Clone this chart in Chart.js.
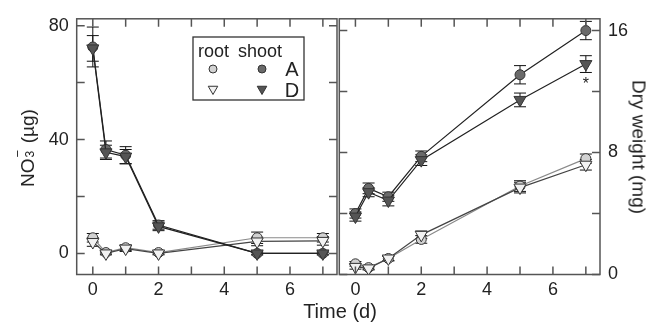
<!DOCTYPE html>
<html><head><meta charset="utf-8">
<script src="https://cdn.jsdelivr.net/npm/chart.js@4"></script>
<style>
html,body{margin:0;padding:0;background:#fff;}
#wrap{position:relative;width:658px;height:324px;overflow:hidden;font-family:"Liberation Sans",Arial,sans-serif;color:#222;}
canvas{position:absolute;top:0;}
.t{position:absolute;white-space:nowrap;font-size:19px;line-height:1;}
.ss{display:inline-block;position:relative;width:10px;height:1em;}
.ss .up{position:absolute;left:1px;top:-4px;font-size:13px;}
.ss .dn{position:absolute;left:1px;top:9px;font-size:12px;}
</style></head>
<body><div id="wrap">
<canvas id="c1" width="345" height="324" style="left:0"></canvas>
<canvas id="c2" width="328" height="324" style="left:330px"></canvas>
<div class="t" id="ylab" style="left:26px;top:148px;transform:translate(-50%,-50%) rotate(-90deg);">NO<span class="ss"><span class="up">−</span><span class="dn">3</span></span> (µg)</div>
<div class="t" style="left:639px;top:147px;transform:translate(-50%,-50%) rotate(90deg);">Dry weight (mg)</div>
<div class="t" style="left:340px;top:311px;transform:translate(-50%,-50%);font-size:20px;">Time (d)</div>
</div>
<script>
// ---- data ----
const days = [0, 0.4, 1, 2, 5, 7];
// nitrate (µg)
const no3ShootA = [72.5, 36.5, 34.5, 10, 0, 0];
const no3ShootD = [72, 35.5, 34, 9.5, 0, 0];
const no3RootA  = [5.5, 0.3, 2, 0.3, 5.5, 5.5];
const no3RootD  = [4, 0, 1.7, 0, 4.2, 4.4];
const no3ShootAErr = [7, 3, 3, 1.5, 0.5, 0.5];
const no3ShootDErr = [4.5, 2.5, 2.5, 1.5, 0.5, 0.5];
const no3RootAErr  = [1.5, 0.5, 1, 0.5, 2, 1.5];
const no3RootDErr  = [1.5, 0.5, 1, 0.5, 1.5, 1.5];
// dry weight (mg)
const dwShootA = [4.0, 5.65, 5.1, 7.75, 13.1, 16.0];
const dwShootD = [3.8, 5.4, 4.85, 7.5, 11.45, 13.8];
const dwRootA  = [0.7, 0.45, 1.05, 2.3, 5.8, 7.6];
const dwRootD  = [0.5, 0.4, 1.05, 2.6, 5.7, 7.2];
const dwShootAErr = [0.3, 0.35, 0.3, 0.35, 0.6, 0.6];
const dwShootDErr = [0.3, 0.3, 0.35, 0.35, 0.45, 0.55];
const dwRootAErr  = [0.15, 0.1, 0.15, 0.25, 0.35, 0.3];
const dwRootDErr  = [0.15, 0.1, 0.15, 0.25, 0.35, 0.35];
// ticks
const xTicks = [0,1,2,3,4,5,6,7];
const xLabels = [0,2,4,6];
const no3Ticks = [0,20,40,60,80];
const no3Labels = [0,40,80];
const dwTicks = [0,4,8,12,16];
const dwLabels = [0,8,16];
const legendRows = ['A','D'];
const legendCols = ['root','shoot'];
const sigMark = '*';

const FONT = '"Liberation Sans", Arial, sans-serif';
const styles = {
  rootA:  {bg:'#d2d2d2', line:'#8a8a8a', shape:'circle', r:5},
  rootD:  {bg:'#f2f2f2', line:'#444', shape:'triangle', r:7},
  shootA: {bg:'#6a6a6a', line:'#222', shape:'circle', r:5},
  shootD: {bg:'#555', line:'#222', shape:'triangle', r:7}
};
function ds(vals, errs, key){
  const s = styles[key];
  return {data: days.map((d,i)=>({x:d, y:vals[i]})), errs: errs, showLine:true,
    borderColor:s.line, borderWidth:1.2, pointBackgroundColor:s.bg, pointBorderColor:'#333',
    pointBorderWidth:1, pointRadius:s.r, pointStyle:s.shape, pointRotation: s.shape==='triangle'?180:0};
}
const framePlugin = {
  id:'frame',
  beforeDatasetsDraw(chart){
    const ctx = chart.ctx; const xs = chart.scales.x, ys = chart.scales.y;
    ctx.save(); ctx.strokeStyle='#111'; ctx.lineWidth=1;
    chart.data.datasets.forEach(d=>{
      d.data.forEach((p,i)=>{
        const e = d.errs[i]; if(!e) return;
        const px = xs.getPixelForValue(p.x);
        const y1 = ys.getPixelForValue(p.y+e), y2 = ys.getPixelForValue(p.y-e);
        ctx.beginPath(); ctx.moveTo(px,y1); ctx.lineTo(px,y2);
        ctx.moveTo(px-6,y1); ctx.lineTo(px+6,y1);
        ctx.moveTo(px-6,y2); ctx.lineTo(px+6,y2); ctx.stroke();
      });
    });
    ctx.restore();
  },
  afterDraw(chart){
    const ctx = chart.ctx, a = chart.chartArea, xs = chart.scales.x, ys = chart.scales.y;
    const o = chart.options.plugins.frame;
    ctx.save(); ctx.strokeStyle='#555'; ctx.lineWidth=1.5;
    ctx.strokeRect(a.left, a.top, a.right-a.left, a.bottom-a.top);
    ctx.beginPath();
    xTicks.forEach(v=>{const p=xs.getPixelForValue(v);
      ctx.moveTo(p,a.bottom); ctx.lineTo(p,a.bottom-8); ctx.moveTo(p,a.top); ctx.lineTo(p,a.top+8);});
    o.yTicks.forEach(v=>{const p=ys.getPixelForValue(v);
      ctx.moveTo(a.left,p); ctx.lineTo(a.left+8,p); ctx.moveTo(a.right,p); ctx.lineTo(a.right-8,p);});
    ctx.stroke();
    if(o.legend){
      ctx.strokeStyle='#333'; ctx.lineWidth=1.3; ctx.strokeRect(193,37,111,63);
      ctx.fillStyle='#222'; ctx.font='18px '+FONT; ctx.textBaseline='alphabetic'; ctx.textAlign='left';
      ctx.fillText(legendCols[0],198,57); ctx.fillText(legendCols[1],238,57);
      ctx.font='20px '+FONT; ctx.textAlign='center';
      ctx.fillText(legendRows[0],292,76); ctx.fillText(legendRows[1],292,97);
      const mk=[['rootA',213,69],['shootA',262,69],['rootD',213,89],['shootD',262,89]];
      mk.forEach(m=>{const s=styles[m[0]];
        ctx.fillStyle=s.bg; ctx.strokeStyle='#333'; ctx.lineWidth=1;
        Chart.helpers.drawPoint(ctx,{pointStyle:s.shape,radius:s.shape==='triangle'?5.5:4,rotation:s.shape==='triangle'?180:0,borderWidth:1},m[1],m[2]);});
    }
    if(o.sig){
      const d = chart.data.datasets[o.sig.ds]; const i = d.data.length-1;
      const px = xs.getPixelForValue(d.data[i].x), py = ys.getPixelForValue(d.data[i].y - d.errs[i]);
      ctx.fillStyle='#222'; ctx.font='16px '+FONT; ctx.textAlign='center'; ctx.textBaseline='middle';
      ctx.fillText(sigMark, px, py+12);
    }
    ctx.restore();
  }
};
function mkOpts(yMin,yMax,yT,yL,pos,padL,padR,yW,legend,sig){
  return {
    responsive:false, animation:false, events:[],
    layout:{padding:{left:padL,right:padR,top:14,bottom:0}},
    plugins:{legend:{display:false},tooltip:{enabled:false},frame:{yTicks:yT,legend:legend,sig:sig}},
    scales:{
      x:{type:'linear',min:-0.49,max:7.43,grid:{display:false,drawTicks:false},border:{display:false},
         afterBuildTicks:s=>{s.ticks=xLabels.map(v=>({value:v}));},
         afterFit:s=>{s.height=49.5;},
         ticks:{padding:5,color:'#222',font:{family:FONT,size:18},callback:v=>String(v),maxRotation:0,autoSkip:false}},
      y:{type:'linear',position:pos,min:yMin,max:yMax,grid:{display:false,drawTicks:false},border:{display:false},
         afterBuildTicks:s=>{s.ticks=yL.map(v=>({value:v}));},
         afterFit:s=>{s.width=yW;},
         ticks:{padding:8,color:'#222',font:{family:FONT,size:18},callback:v=>String(v),autoSkip:false}}
    }
  };
}
// dataset 0 is drawn on top in Chart.js, so triangles / shoots come first
new Chart(document.getElementById('c1'),{
  type:'scatter',
  data:{datasets:[ds(no3ShootD,no3ShootDErr,'shootD'),ds(no3ShootA,no3ShootAErr,'shootA'),
                  ds(no3RootD,no3RootDErr,'rootD'),ds(no3RootA,no3RootAErr,'rootA')]},
  options:mkOpts(-7.4,82.4,no3Ticks,no3Labels,'left',0,5.7,76.7,true,null),
  plugins:[framePlugin]
});
new Chart(document.getElementById('c2'),{
  type:'scatter',
  data:{datasets:[ds(dwShootD,dwShootDErr,'shootD'),ds(dwShootA,dwShootAErr,'shootA'),
                  ds(dwRootD,dwRootDErr,'rootD'),ds(dwRootA,dwRootAErr,'rootA')]},
  options:mkOpts(0,16.77,dwTicks,dwLabels,'right',9.3,0,58,false,{ds:0}),
  plugins:[framePlugin]
});
</script></body></html>
